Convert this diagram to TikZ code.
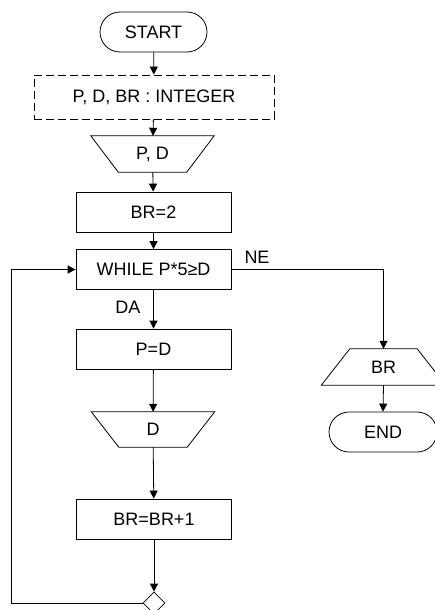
\documentclass[tikz,border=0pt]{standalone}
\usepackage{fontspec}
\setmainfont{Liberation Sans}
\usetikzlibrary{arrows.meta,shapes.geometric}
\begin{document}
\begin{tikzpicture}[x=1pt,y=-1pt,
 txt/.style={font=\fontsize{18}{21}\selectfont},
 base/.style={txt,draw,line width=0.8pt,inner sep=0pt},
 term/.style={base,rounded corners=20pt,minimum width=107pt,minimum height=40pt},
 procbox/.style={base,minimum width=155pt,minimum height=40pt},
 decl/.style={base,dash pattern=on 8pt off 4pt,minimum width=240pt,minimum height=44pt},
 iotext/.style={txt,inner sep=0pt,minimum width=68pt,minimum height=36pt},
 joint/.style={draw,line width=0.8pt,diamond,inner sep=0pt,minimum width=22pt,minimum height=22pt},
 conn/.style={line width=0.8pt},
 arr/.style={conn,-{Triangle[length=8pt,width=8pt]}}
]
\useasboundingbox (0,0) rectangle (435,610);
\clip (0,0) rectangle (435,610);
\node[term] (start) at (153.5,32) {START};
\node[decl] (decl) at (154,97) {P, D, BR : INTEGER};
\node[iotext] (pd) at (152.5,154) {P, D};
\draw[conn] ([xshift=-27.5pt]pd.north west) -- ([xshift=27.5pt]pd.north east) -- (pd.south east) -- (pd.south west) -- cycle;
\node[procbox] (br2) at (153.5,212) {BR=2};
\node[procbox] (wh) at (153.5,269.5) {WHILE P*5≥D};
\node[procbox] (pdd) at (153.5,349) {P=D};
\node[iotext,minimum height=35pt] (dd) at (153,429.5) {D};
\draw[conn] ([xshift=-27.5pt]dd.north west) -- ([xshift=27.5pt]dd.north east) -- (dd.south east) -- (dd.south west) -- cycle;
\node[procbox] (bb1) at (154,519) {BR=BR+1};
\node[joint] (j) at (154,603) {};
\node[iotext,minimum width=67pt] (brout) at (383.5,367) {BR};
\draw[conn] (brout.north west) -- (brout.north east) -- ([xshift=28.5pt]brout.south east) -- ([xshift=-28.5pt]brout.south west) -- cycle;
\node[term,minimum width=108pt] (end) at (383,432) {END};
\node[txt] (ne) at (257,257) {NE};
\node[txt] (da) at (128,307) {DA};
\coordinate (loopx) at (11,0);
\draw[arr] (start) -- (decl);
\draw[arr] (decl) -- (pd);
\draw[arr] (pd) -- (br2);
\draw[arr] (br2) -- (wh);
\draw[arr] (wh) -- (pdd);
\draw[arr] (pdd) -- (dd);
\draw[arr] (dd) -- (bb1);
\draw[arr] (bb1) -- (j);
\draw[arr] (j.west) -- (j.west -| loopx) |- (wh.west);
\draw[arr] (wh.east) -| (brout.north);
\draw[arr] (brout.south) -- (end.north);
\end{tikzpicture}
\end{document}
